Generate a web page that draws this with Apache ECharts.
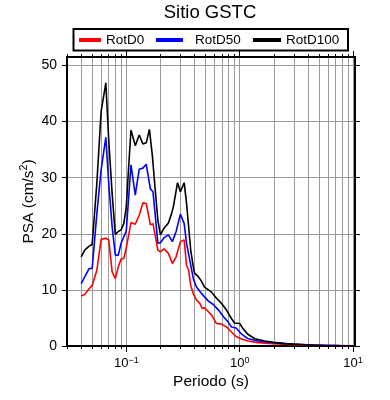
<!DOCTYPE html>
<html><head><meta charset="utf-8">
<script src="https://cdn.jsdelivr.net/npm/echarts@6/dist/echarts.min.js"></script>
<style>html,body{margin:0;padding:0;background:#fff}#c{width:390px;height:400px}</style>
</head><body><div id="c"></div>
<script>
const titleText = 'Sitio GSTC';
const xAxisName = 'Periodo (s)';
const yAxisNameBase = 'PSA (cm/s';
const yAxisNameSup = '2';
const yAxisNameEnd = ')';
const seriesNames = ['RotD0', 'RotD50', 'RotD100'];
const seriesColors = ['#ff0000', '#0000ff', '#000000'];

const periodsD0 = [0.04,0.043,0.047,0.05,0.055,0.06,0.066,0.07,0.075,0.08,0.085,0.09,0.095,0.1,0.11,0.12,0.13,0.14,0.15,0.155,0.163,0.172,0.19,0.2,0.215,0.235,0.255,0.275,0.3,0.324,0.34,0.355,0.37,0.39,0.416,0.445,0.467,0.49,0.53,0.565,0.625,0.69,0.765,0.845,0.93,1.04,1.18,1.45,1.95,2.9,4.4,7.5,10];
const valuesD0 = [8.9,9.2,10.2,10.8,13.5,19.0,19.2,18.9,13.2,12.0,14.1,15.5,15.6,17.5,22.0,21.7,23.3,25.5,25.4,25.2,21.6,21.8,17.1,16.8,17.3,16.5,14.7,15.9,18.6,18.9,14.4,13.5,10.8,9.3,8.2,7.6,6.7,6.8,6.1,5.5,4.0,3.9,3.4,2.5,1.7,1.25,0.9,0.6,0.42,0.24,0.12,0.06,0.03];

const periodsD50 = [0.04,0.043,0.047,0.05,0.055,0.06,0.066,0.07,0.075,0.08,0.085,0.09,0.1,0.11,0.12,0.13,0.14,0.15,0.155,0.163,0.172,0.19,0.2,0.215,0.235,0.255,0.275,0.3,0.324,0.34,0.363,0.39,0.416,0.455,0.49,0.53,0.585,0.65,0.72,0.79,0.845,0.93,1.04,1.18,1.45,1.95,2.9,4.4,7.5,10];
const valuesD50 = [11.1,12.3,13.8,13.8,23.6,31.4,37.2,29.0,21.3,16.2,16.2,18.3,20.5,32.3,26.9,31.5,31.7,32.4,32.5,28.0,27.5,18.3,18.4,19.3,19.8,18.6,20.4,23.5,21.8,18.3,15.3,12.0,10.5,9.5,8.75,8.0,7.4,6.4,5.2,4.3,3.4,3.2,2.1,1.3,0.9,0.6,0.36,0.18,0.06,0.03];

const periodsD100 = [0.04,0.043,0.047,0.05,0.055,0.06,0.066,0.07,0.075,0.08,0.085,0.09,0.095,0.1,0.105,0.11,0.12,0.13,0.14,0.15,0.16,0.17,0.18,0.19,0.2,0.215,0.235,0.25,0.26,0.283,0.3,0.324,0.34,0.37,0.39,0.4,0.43,0.455,0.49,0.51,0.565,0.625,0.69,0.765,0.845,0.9,1.0,1.07,1.18,1.36,1.66,2.0,2.5,3.8,5.6,10];
const valuesD100 = [15.9,17.1,17.8,18.1,29.0,41.8,46.9,36.7,27.2,19.9,20.4,20.7,21.8,24.8,32.0,38.5,35.7,37.6,36.0,36.2,38.6,33.8,27.8,22.4,19.8,21.0,21.9,23.5,24.8,29.1,27.5,29.1,25.4,17.1,14.1,13.0,12.4,11.7,10.5,10.4,9.6,8.5,7.6,6.4,4.9,4.1,4.0,3.1,2.1,1.3,0.9,0.65,0.42,0.2,0.06,0.02];

const xMajorTicks = [0.1, 1, 10];
const xMinorTicks = [0.03,0.04,0.05,0.06,0.07,0.08,0.09,0.1,0.2,0.3,0.4,0.5,0.6,0.7,0.8,0.9,1,2,3,4,5,6,7,8,9,10];
const yTicks = [0, 10, 20, 30, 40, 50];
const xMin = 0.03, xMax = 10.4, yMin = 0, yMax = 51.5;

const FONT = 'Liberation Sans, Arial, Helvetica, sans-serif';
function pairs(xs, ys) { return xs.map((x, i) => [x, ys[i]]); }
function powLabel(v) {
  const e = Math.round(Math.log10(v));
  if (Math.abs(v - Math.pow(10, e)) / v > 1e-6) return '';
  return '{b|10}{s|' + (e < 0 ? '\u2212' + (-e) : e) + '}';
}
const richX = {
  b: {fontSize: 13, lineHeight: 15, fontFamily: FONT, color: '#000'},
  s: {fontSize: 9, lineHeight: 9, verticalAlign: 'top', fontFamily: FONT, color: '#000'}
};
const richY = {
  b: {fontSize: 15.5, lineHeight: 20, fontFamily: FONT, color: '#000'},
  s: {fontSize: 10.5, lineHeight: 10, verticalAlign: 'top', fontFamily: FONT, color: '#000'}
};

const chart = echarts.init(document.getElementById('c'), null, {renderer: 'canvas'});
const gridCfg = {left: 67, right: 35, top: 57, bottom: 54};

function xAx(pos, ticks, len, withLabel, withSplit) {
  return {
    type: 'log', logBase: 10, position: pos, min: xMin, max: xMax, gridIndex: 0,
    axisLine: {show: true, onZero: false, lineStyle: {color: '#000', width: 2}},
    axisTick: {show: true, inside: false, length: len, customValues: ticks, lineStyle: {color: '#000', width: 1}},
    axisLabel: withLabel ? {show: true, customValues: xMajorTicks, margin: 10, formatter: powLabel, rich: richX} : {show: false},
    splitLine: {show: withSplit, lineStyle: {color: '#9a9a9a', width: 1}},
    minorTick: {show: false}, minorSplitLine: {show: false}
  };
}
function yAx(pos, withLabel, withSplit) {
  return {
    type: 'value', position: pos, min: yMin, max: yMax, gridIndex: 0,
    axisLine: {show: true, onZero: false, lineStyle: {color: '#000', width: 2}},
    axisTick: {show: true, inside: false, length: 5, customValues: yTicks, lineStyle: {color: '#000', width: 1}},
    axisLabel: withLabel ? {show: true, customValues: yTicks, margin: 10, fontSize: 14, fontFamily: FONT, color: '#000'} : {show: false},
    splitLine: {show: withSplit, lineStyle: {color: '#9a9a9a', width: 1}},
    name: withLabel ? '{b|' + yAxisNameBase + '}{s|' + yAxisNameSup + '}{b|' + yAxisNameEnd + '}' : '',
    nameLocation: 'middle', nameGap: 28, nameMoveOverlap: false,
    nameTextStyle: {fontSize: 15.5, fontFamily: FONT, color: '#000', rich: richY}
  };
}

const xAxes = [xAx('bottom', xMinorTicks, 3, false, true), xAx('bottom', xMajorTicks, 6, true, false),
               xAx('top', xMinorTicks, 3, false, false), xAx('top', xMajorTicks, 6, false, false)];
xAxes[1].name = xAxisName; xAxes[1].nameLocation = 'middle'; xAxes[1].nameGap = 28;
xAxes[1].nameMoveOverlap = false;
xAxes[1].nameTextStyle = {fontSize: 15.5, fontFamily: FONT, color: '#000'};

const legendBase = {padding: 0, top: 33, icon: 'rect', itemHeight: 4, selectedMode: false,
  textStyle: {fontSize: 13.5, fontFamily: FONT, color: '#000'}};

chart.setOption({
  animation: false,
  backgroundColor: '#fff',
  title: {text: titleText, left: 210, top: 3, textAlign: 'center', padding: 0,
    textStyle: {fontSize: 18.5, fontWeight: 'normal', fontFamily: FONT, color: '#000'}},
  graphic: [{type: 'rect', shape: {x: 73.5, y: 29, width: 274.5, height: 21.5},
    style: {fill: '#fff', stroke: '#000', lineWidth: 2}, z: 1}],
  legend: [
    Object.assign({}, legendBase, {data: [seriesNames[0]], left: 79, itemWidth: 22}),
    Object.assign({}, legendBase, {data: [seriesNames[1]], left: 156, itemWidth: 27,
      textStyle: {fontSize: 13.5, fontFamily: FONT, color: '#000', padding: [0, 0, 0, 7]}}),
    Object.assign({}, legendBase, {data: [seriesNames[2]], left: 253, itemWidth: 28})
  ],
  grid: Object.assign({show: false}, gridCfg),
  xAxis: xAxes,
  yAxis: [yAx('left', true, true), yAx('right', false, false)],
  series: [
    {name: seriesNames[0], type: 'line', data: pairs(periodsD0, valuesD0)},
    {name: seriesNames[1], type: 'line', data: pairs(periodsD50, valuesD50)},
    {name: seriesNames[2], type: 'line', data: pairs(periodsD100, valuesD100)}
  ].map((s, i) => Object.assign(s, {xAxisIndex: 0, yAxisIndex: 0, showSymbol: false, symbol: 'none',
      color: seriesColors[i], lineStyle: {color: seriesColors[i], width: 1.6}, z: 3 + i}))
});
</script></body></html>
